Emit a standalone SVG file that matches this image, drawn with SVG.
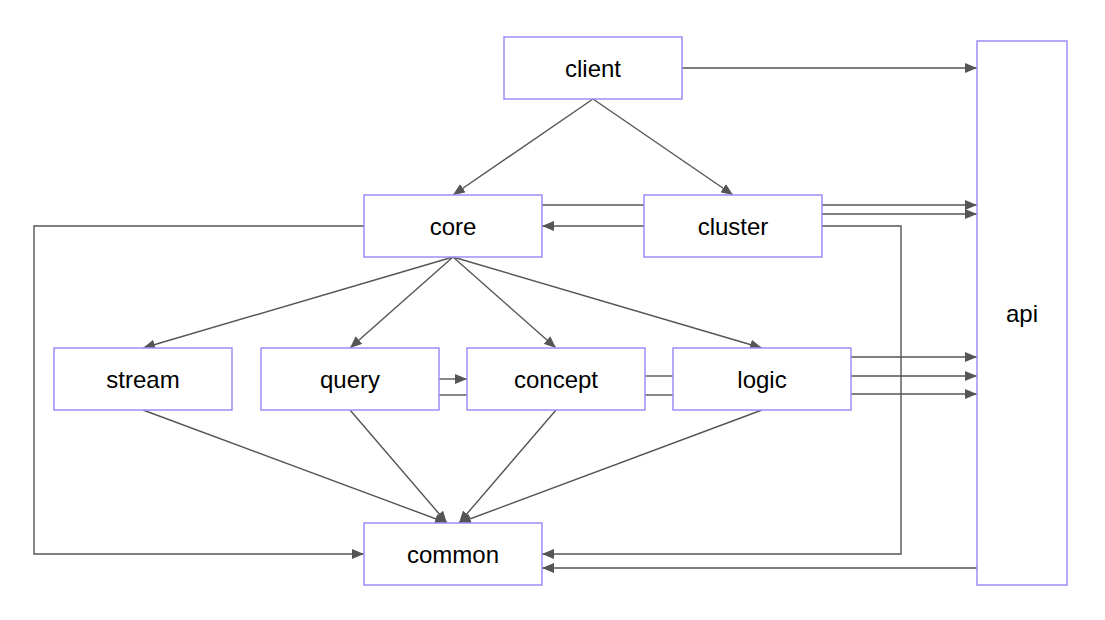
<svg xmlns="http://www.w3.org/2000/svg" width="1105" height="620" viewBox="0 0 1105 620">
<defs>
<marker id="ah" viewBox="0 0 12 10" refX="12" refY="5" markerWidth="12" markerHeight="10" markerUnits="userSpaceOnUse" orient="auto">
<path d="M0,0 L12,5 L0,10 z" fill="#555"/>
</marker>
<style>
.n rect{fill:#fff;stroke:#9a8ff7;stroke-width:1.5}
.n text{font-family:"Liberation Sans",Arial,sans-serif;font-size:24px;fill:#000;text-anchor:middle;dominant-baseline:central}
.e path{fill:none;stroke:#555;stroke-width:1.4}
.e .a{marker-end:url(#ah)}
</style>
</defs>
<rect width="1105" height="620" fill="#fff"/>
<g class="e" id="edges">
<path class="a" d="M682,68 H977"/>
<path class="a" d="M593,99 L453,195"/>
<path class="a" d="M593,99 L733,195"/>
<path d="M542,205 H644"/>
<path class="a" d="M644,226 H542"/>
<path class="a" d="M822,205 H977"/>
<path class="a" d="M822,214 H977"/>
<path class="a" d="M822,226 H901 V554 H542"/>
<path class="a" d="M364,226 H34 V554 H364"/>
<path class="a" d="M453,257 L143,348"/>
<path class="a" d="M453,257 L350,348"/>
<path class="a" d="M453,257 L556,348"/>
<path class="a" d="M453,257 L762,348"/>
<path class="a" d="M439,379 H467"/>
<path d="M439,395 H467"/>
<path d="M645,376 H673"/>
<path d="M645,395 H673"/>
<path class="a" d="M851,357 H977"/>
<path class="a" d="M851,376 H977"/>
<path class="a" d="M851,394 H977"/>
<path class="a" d="M977,568 H542"/>
<path class="a" d="M143,410 L447,523"/>
<path class="a" d="M350,410 L447,523"/>
<path class="a" d="M556,410 L459,523"/>
<path class="a" d="M762,410 L459,523"/>
</g>
<g class="n" id="client"><rect x="504" y="37" width="178" height="62"/><text x="593" y="68">client</text></g>
<g class="n" id="core"><rect x="364" y="195" width="178" height="62"/><text x="453" y="226">core</text></g>
<g class="n" id="cluster"><rect x="644" y="195" width="178" height="62"/><text x="733" y="226">cluster</text></g>
<g class="n" id="stream"><rect x="54" y="348" width="178" height="62"/><text x="143" y="379">stream</text></g>
<g class="n" id="query"><rect x="261" y="348" width="178" height="62"/><text x="350" y="379">query</text></g>
<g class="n" id="concept"><rect x="467" y="348" width="178" height="62"/><text x="556" y="379">concept</text></g>
<g class="n" id="logic"><rect x="673" y="348" width="178" height="62"/><text x="762" y="379">logic</text></g>
<g class="n" id="common"><rect x="364" y="523" width="178" height="62"/><text x="453" y="554">common</text></g>
<g class="n" id="api"><rect x="977" y="41" width="90" height="544"/><text x="1022" y="313">api</text></g>
</svg>
